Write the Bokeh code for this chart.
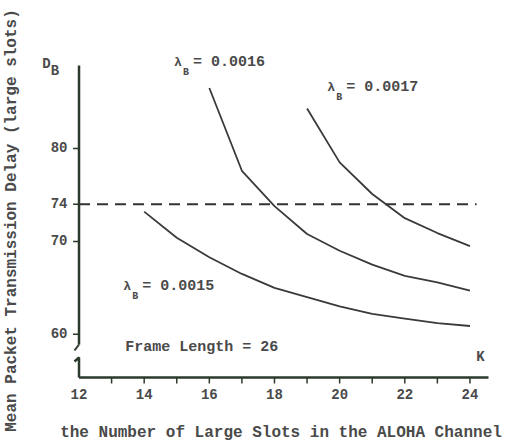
import math
from bokeh.plotting import figure
from bokeh.models import Label, FixedTicker, Range1d
from bokeh.embed import file_html
from bokeh.resources import INLINE

# ---- data ----
K_0015 = [14, 15, 16, 17, 18, 19, 20, 21, 22, 23, 24]
D_0015 = [73.2, 70.4, 68.3, 66.5, 65.0, 64.0, 63.0, 62.2, 61.7, 61.2, 60.9]
K_0016 = [16, 17, 18, 19, 20, 21, 22, 23, 24]
D_0016 = [86.5, 77.6, 73.8, 70.8, 69.0, 67.5, 66.3, 65.6, 64.7]
K_0017 = [19, 20, 21, 22, 23, 24]
D_0017 = [84.3, 78.5, 75.1, 72.5, 70.9, 69.5]
THRESHOLD = 74
X_TICKS = list(range(12, 25))
X_TICK_LABELS = [12, 14, 16, 18, 20, 22, 24]
Y_TICKS = [60, 70, 74, 80]
LAMBDA_LABELS = ["0.0015", "0.0016", "0.0017"]

# ---- layout ----
W, H = 506, 447
X0, X1 = 11.8, 24.6
Y0, Y1 = 54.5, 90.0
FL, FT, FW, FH = 70, 55, 419, 330   # frame left/top/width/height in px
SX = FW / (X1 - X0)
SY = FH / (Y1 - Y0)

def px(xi, yi):
    """picture pixel -> data coords"""
    return X0 + (xi - FL) / SX, Y1 - (yi - FT) / SY

FONT = "Liberation Mono"
TXT = "#4a4a4a"
AX = "#2b3a2b"
CURVE = "#3a3a3a"

p = figure(width=W, height=H, output_backend="svg", toolbar_location=None,
           x_range=Range1d(X0, X1), y_range=Range1d(Y0, Y1))
p.min_border = 0
p.min_border_left = FL
p.min_border_top = FT
p.min_border_right = W - FL - FW
p.min_border_bottom = H - FT - FH
p.outline_line_color = None
p.grid.visible = False
p.background_fill_color = "white"
p.border_fill_color = "white"

for ax in (p.xaxis, p.yaxis):
    ax.axis_line_color = None
    ax.major_tick_line_color = None
    ax.minor_tick_line_color = None
    ax.major_tick_out = 0
    ax.major_tick_in = 0
    ax.major_label_text_font = FONT
    ax.major_label_text_font_style = "bold"
    ax.major_label_text_color = TXT
    ax.major_label_text_font_size = "14px"
    ax.axis_label_text_font = FONT
    ax.axis_label_text_font_style = "bold"
    ax.axis_label_text_color = TXT
    ax.axis_label_text_font_size = "16px"

# variable name D_B shown at the top of the value axis
D_POS = round(px(0, 63)[1], 1)
B_POS = round(px(0, 71)[1], 1)
p.xaxis.ticker = FixedTicker(ticks=X_TICK_LABELS)
p.yaxis.ticker = FixedTicker(ticks=Y_TICKS + [D_POS, B_POS])
p.yaxis.major_label_overrides = {D_POS: "D\u00a0\u00a0", B_POS: "B\u00a0"}
p.xaxis.major_label_standoff = 3
p.yaxis.major_label_standoff = 5

p.xaxis.axis_label = "the Number of Large Slots in the ALOHA Channel"
p.yaxis.axis_label = "Mean Packet Transmission Delay (large slots)"
p.xaxis.axis_label_standoff = 22
p.yaxis.axis_label_standoff = 18

# axis geometry
AXIS_Y = px(0, 377)[1]
AXIS_X = 12
Y_TOP = px(0, 65)[1]
X_END = px(488, 0)[0]
brk_top = px(0, 344)[1]
brk_top_end = px(72, 350)
brk_bot = px(0, 357)[1]
brk_bot_start = px(72, 361)

p.line([AXIS_X, AXIS_X], [Y_TOP, brk_top], line_color=AX, line_width=2.5)
p.line([AXIS_X, brk_top_end[0]], [brk_top, brk_top_end[1]], line_color=AX, line_width=2)
p.line([brk_bot_start[0], AXIS_X, AXIS_X], [brk_bot_start[1], brk_bot, AXIS_Y],
       line_color=AX, line_width=2.5)
p.line([AXIS_X, X_END], [AXIS_Y, AXIS_Y], line_color=AX, line_width=2.5)

tick_dy = 6 / SY
tick_dx = 6 / SX
p.segment(x0=X_TICKS[1:], y0=[AXIS_Y] * (len(X_TICKS) - 1),
          x1=X_TICKS[1:], y1=[AXIS_Y - tick_dy] * (len(X_TICKS) - 1),
          line_color=AX, line_width=1.5)
p.segment(x0=[AXIS_X] * len(Y_TICKS), y0=Y_TICKS,
          x1=[AXIS_X - tick_dx] * len(Y_TICKS), y1=Y_TICKS,
          line_color=AX, line_width=1.5)

# threshold dashed line
p.line([AXIS_X, px(476, 0)[0]], [THRESHOLD, THRESHOLD], line_color="#333333",
       line_width=2, line_dash="11 7")

# curves
for ks, ds in ((K_0015, D_0015), (K_0016, D_0016), (K_0017, D_0017)):
    p.line(ks, ds, line_color=CURVE, line_width=1.8)

def lab(xi, yi, text, size, **kw):
    x, y = px(xi, yi)
    p.add_layout(Label(x=x, y=y, text=text, text_font=FONT,
                       text_font_style="bold", text_color=TXT,
                       text_font_size=size, text_baseline="middle",
                       text_align=kw.pop("align", "left"), **kw))

# lambda labels
for (xi, yi), lv in zip(((121, 286), (172, 62), (326, 87)), LAMBDA_LABELS):
    lab(xi, yi, "λ", "13px")
    lab(xi + 9, yi + 10, "B", "10px")
    lab(xi + 19, yi, "= " + lv, "15px")

lab(123, 347, "Frame Length = 26", "15px")
lab(480, 356, "K", "14px", align="center")

open("out.html", "w").write(file_html(p, INLINE))
